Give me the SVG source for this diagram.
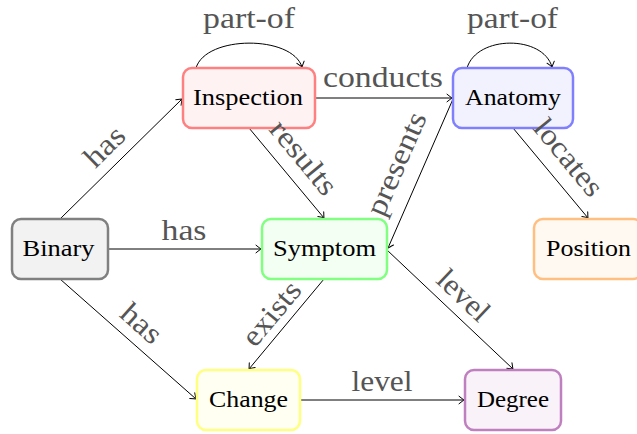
<svg xmlns="http://www.w3.org/2000/svg" width="637" height="434" viewBox="0 0 637 434">
  <style>
    text { font-family: 'Liberation Serif', 'DejaVu Serif', serif; }
    .box { stroke-width: 2.5; }
    .ntext { font-size: 24px; fill: #000; text-anchor: middle; }
    .ltext { font-size: 30px; fill: #555; text-anchor: middle; }
    .edge { fill: none; stroke: #000; stroke-width: 1; marker-end: url(#tip); }
  </style>
  <defs>
    <marker id="tip" viewBox="-6 -5 7 10" markerWidth="7" markerHeight="10" refX="0" refY="0" orient="auto" markerUnits="userSpaceOnUse">
      <path d="M -5,-3.8 Q -1.2,-0.8 0,0 Q -1.2,0.8 -5,3.8" fill="none" stroke="#000" stroke-width="1" stroke-linecap="round"/>
    </marker>
  </defs>

  <!-- connectors -->
  <g id="edges">
    <line class="edge" x1="60" y1="219" x2="182" y2="99"/>
    <line class="edge" x1="108" y1="249" x2="261" y2="249"/>
    <line class="edge" x1="60" y1="279" x2="196" y2="399"/>
    <path class="edge" d="M196,68 C206,35 292,35 302,67"/>
    <line class="edge" x1="315" y1="98" x2="452" y2="98"/>
    <line class="edge" x1="249" y1="128" x2="324" y2="218"/>
    <line class="edge" x1="453" y1="99" x2="388" y2="248"/>
    <path class="edge" d="M467,68 C477,35 543,35 552,67"/>
    <line class="edge" x1="513" y1="128" x2="588" y2="218"/>
    <line class="edge" x1="324" y1="279" x2="249" y2="369"/>
    <line class="edge" x1="387" y1="250" x2="513" y2="369"/>
    <line class="edge" x1="300" y1="400" x2="464" y2="400"/>
  </g>

  <!-- nodes -->
  <g id="inspection">
    <rect class="box" x="183" y="68" width="132" height="60" rx="9" fill="#fff2f2" stroke="#ff8080"/>
    <text class="ntext" x="248" y="105" textLength="110" lengthAdjust="spacingAndGlyphs">Inspection</text>
  </g>
  <g id="anatomy">
    <rect class="box" x="453" y="68" width="120" height="60" rx="9" fill="#f2f2ff" stroke="#8080ff"/>
    <text class="ntext" x="513" y="105" textLength="96" lengthAdjust="spacingAndGlyphs">Anatomy</text>
  </g>
  <g id="binary">
    <rect class="box" x="12" y="219" width="96" height="60" rx="9" fill="#f2f2f2" stroke="#808080"/>
    <text class="ntext" x="58.5" y="256" textLength="72" lengthAdjust="spacingAndGlyphs">Binary</text>
  </g>
  <g id="symptom">
    <rect class="box" x="262" y="219" width="125" height="60" rx="9" fill="#f2fff2" stroke="#80ff80"/>
    <text class="ntext" x="324.5" y="256" textLength="103" lengthAdjust="spacingAndGlyphs">Symptom</text>
  </g>
  <g id="position">
    <rect class="box" x="534" y="219" width="108" height="60" rx="9" fill="#fff9f2" stroke="#ffbf80"/>
    <text class="ntext" x="588.5" y="256" textLength="85" lengthAdjust="spacingAndGlyphs">Position</text>
  </g>
  <g id="change">
    <rect class="box" x="197" y="370" width="103" height="60" rx="9" fill="#fffff2" stroke="#ffff80"/>
    <text class="ntext" x="248.5" y="407" textLength="79" lengthAdjust="spacingAndGlyphs">Change</text>
  </g>
  <g id="degree">
    <rect class="box" x="465" y="370" width="96" height="60" rx="9" fill="#f9f2f9" stroke="#bf80bf"/>
    <text class="ntext" x="513" y="407" textLength="72" lengthAdjust="spacingAndGlyphs">Degree</text>
  </g>

  <!-- connector labels, drawn last so they sit on top of node borders -->
  <g id="edge-labels">
    <text class="ltext" transform="translate(105,147) rotate(-44.5)" y="9" textLength="45" lengthAdjust="spacingAndGlyphs">has</text>
    <text class="ltext" x="184" y="240" textLength="45" lengthAdjust="spacingAndGlyphs">has</text>
    <text class="ltext" transform="translate(141,324) rotate(41.5)" y="9" textLength="45" lengthAdjust="spacingAndGlyphs">has</text>
    <text class="ltext" x="249" y="28" textLength="92" lengthAdjust="spacingAndGlyphs">part-of</text>
    <text class="ltext" x="383" y="87" textLength="120" lengthAdjust="spacingAndGlyphs">conducts</text>
    <text class="ltext" transform="translate(303,158) rotate(50.5)" y="9" textLength="88" lengthAdjust="spacingAndGlyphs">results</text>
    <text class="ltext" transform="translate(397,164) rotate(-66.4)" y="9" textLength="110" lengthAdjust="spacingAndGlyphs">presents</text>
    <text class="ltext" x="512.5" y="28" textLength="91" lengthAdjust="spacingAndGlyphs">part-of</text>
    <text class="ltext" transform="translate(568,158) rotate(50.5)" y="9" textLength="91" lengthAdjust="spacingAndGlyphs">locates</text>
    <text class="ltext" transform="translate(272,314) rotate(-50.3)" y="9" textLength="75" lengthAdjust="spacingAndGlyphs">exists</text>
    <text class="ltext" transform="translate(463,296) rotate(43.8)" y="9" textLength="61" lengthAdjust="spacingAndGlyphs">level</text>
    <text class="ltext" x="382" y="391" textLength="61" lengthAdjust="spacingAndGlyphs">level</text>
  </g>
</svg>
